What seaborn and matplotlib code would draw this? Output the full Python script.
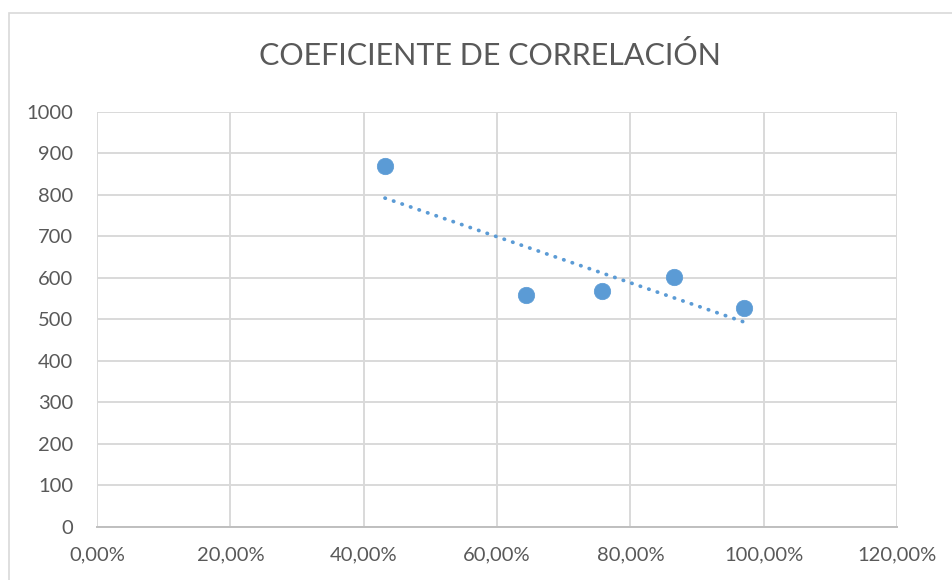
import numpy as np
import pandas as pd
import matplotlib.pyplot as plt
import seaborn as sns
from matplotlib.ticker import FuncFormatter, MultipleLocator
from matplotlib.patches import Rectangle

# values (x as fraction, y as count)
porcentaje = [0.432, 0.644, 0.758, 0.865, 0.970]
valor = [871, 558, 568, 602, 527]

titulo = "COEFICIENTE DE CORRELACIÓN"

df = pd.DataFrame({"x": porcentaje, "y": valor})

sns.set_style("white")
plt.rcParams['font.family'] = ['Lato', 'DejaVu Sans']

azul = "#5b9bd5"
gris_txt = "#595959"
gris_grid = "#d9d9d9"

fig = plt.figure(figsize=(9.53, 5.8), dpi=100)
ax = fig.add_axes([0.1018, 0.0914, 0.8394, 0.7155])

# outer chart frame like the excel chart area
fig.patches.append(Rectangle((9 / 953, -0.1), 1.2, 1.1 - 13 / 580,
                             transform=fig.transFigure, fill=False,
                             edgecolor=gris_grid, linewidth=1.2))

sns.regplot(data=df, x="x", y="y", ax=ax, scatter=False, ci=None,
            line_kws=dict(color=azul, linestyle=(0, (0.1, 2.3)),
                          linewidth=2.7, dash_capstyle="round"))
sns.scatterplot(data=df, x="x", y="y", ax=ax, s=140, color=azul,
                edgecolor=azul, linewidth=0.5, zorder=3)

ax.set_xlim(0, 1.2)
ax.set_ylim(0, 1000)
ax.xaxis.set_major_locator(MultipleLocator(0.2))
ax.yaxis.set_major_locator(MultipleLocator(100))
ax.xaxis.set_major_formatter(FuncFormatter(lambda v, p: f"{v*100:.2f}%".replace(".", ",")))

ax.grid(True, color=gris_grid, linewidth=1.4)
ax.set_axisbelow(True)
for s in ["top", "right", "left"]:
    ax.spines[s].set_visible(False)
ax.spines["bottom"].set_color("#bfbfbf")
ax.spines["bottom"].set_linewidth(1.4)

ax.tick_params(axis="both", length=0, labelsize=14.5, labelcolor=gris_txt)
ax.tick_params(axis="x", pad=14)
ax.tick_params(axis="y", pad=17)
ax.set_xlabel("")
ax.set_ylabel("")

fig.text(0.514, 0.905, titulo, ha="center", va="center",
         fontsize=22, color=gris_txt, fontweight="normal")

fig.savefig("out.png", dpi=100)
